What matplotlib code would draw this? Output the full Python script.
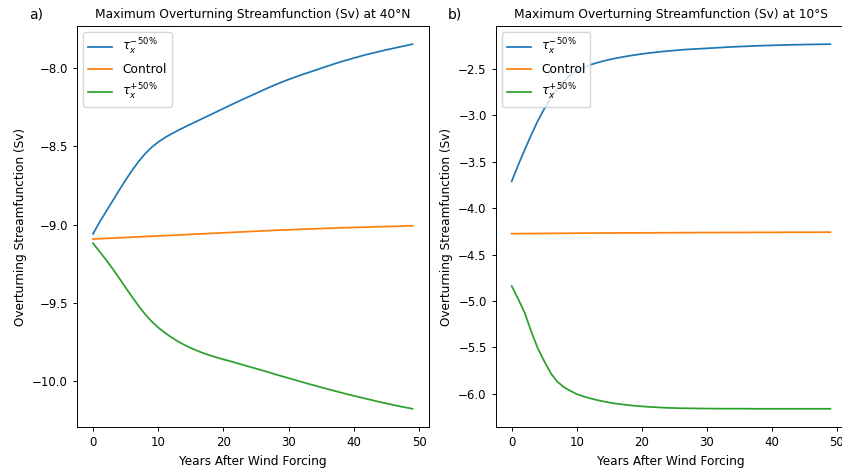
import numpy as np
import matplotlib
matplotlib.use("Agg")
import matplotlib.pyplot as plt

plt.rcParams['font.size'] = 8.5
plt.rcParams['lines.linewidth'] = 1.26
plt.rcParams['axes.linewidth'] = 0.7
plt.rcParams['xtick.major.size'] = 3.0
plt.rcParams['ytick.major.size'] = 3.0
plt.rcParams['xtick.major.width'] = 0.7
plt.rcParams['ytick.major.width'] = 0.7

years = np.arange(50)

# max overturning streamfunction at 40N (Sv)
north_weak = [-9.06, -8.985, -8.917, -8.849, -8.781, -8.715, -8.653, -8.596, -8.546, -8.505,
              -8.472, -8.444, -8.42, -8.398, -8.377, -8.357, -8.337, -8.317, -8.297, -8.277,
              -8.257, -8.237, -8.217, -8.198, -8.179, -8.16, -8.141, -8.122, -8.104, -8.087,
              -8.071, -8.056, -8.041, -8.027, -8.013, -7.999, -7.985, -7.971, -7.958, -7.946,
              -7.934, -7.922, -7.911, -7.901, -7.891, -7.881, -7.872, -7.863, -7.854, -7.845]
north_ctrl = [-9.093, -9.091, -9.089, -9.087, -9.085, -9.083, -9.081, -9.079, -9.077, -9.075,
              -9.073, -9.071, -9.069, -9.067, -9.065, -9.063, -9.061, -9.059, -9.057, -9.055,
              -9.053, -9.051, -9.049, -9.047, -9.045, -9.043, -9.041, -9.039, -9.037, -9.035,
              -9.034, -9.032, -9.030, -9.029, -9.027, -9.026, -9.024, -9.023, -9.021, -9.020,
              -9.019, -9.018, -9.017, -9.015, -9.014, -9.013, -9.012, -9.011, -9.009, -9.008]
north_strong = [-9.12, -9.173, -9.226, -9.283, -9.343, -9.404, -9.464, -9.522, -9.575, -9.621,
                -9.66, -9.693, -9.722, -9.748, -9.771, -9.791, -9.809, -9.825, -9.839, -9.852,
                -9.864, -9.875, -9.887, -9.899, -9.911, -9.923, -9.935, -9.947, -9.96, -9.972,
                -9.984, -9.996, -10.008, -10.02, -10.031, -10.043, -10.054, -10.065, -10.076, -10.087,
                -10.097, -10.107, -10.117, -10.127, -10.137, -10.146, -10.155, -10.164, -10.172, -10.18]

# max overturning streamfunction at 10S (Sv)
south_weak = [-3.71, -3.535, -3.37, -3.21, -3.06, -2.93, -2.815, -2.715, -2.632, -2.568,
              -2.52, -2.484, -2.456, -2.434, -2.415, -2.398, -2.383, -2.37, -2.358, -2.347,
              -2.337, -2.328, -2.32, -2.312, -2.305, -2.299, -2.293, -2.288, -2.284, -2.28,
              -2.276, -2.272, -2.268, -2.264, -2.26, -2.257, -2.254, -2.251, -2.248, -2.246,
              -2.244, -2.242, -2.240, -2.238, -2.237, -2.235, -2.234, -2.233, -2.232, -2.231]
south_ctrl = [-4.275, -4.275, -4.274, -4.274, -4.273, -4.273, -4.272, -4.272, -4.271, -4.271,
              -4.270, -4.270, -4.269, -4.269, -4.268, -4.268, -4.268, -4.267, -4.267, -4.267,
              -4.266, -4.266, -4.266, -4.265, -4.265, -4.265, -4.264, -4.264, -4.264, -4.263,
              -4.263, -4.263, -4.263, -4.262, -4.262, -4.262, -4.262, -4.261, -4.261, -4.261,
              -4.261, -4.261, -4.260, -4.260, -4.260, -4.260, -4.260, -4.260, -4.259, -4.259]
south_strong = [-4.84, -4.98, -5.13, -5.33, -5.51, -5.65, -5.78, -5.87, -5.93, -5.97,
                -6.005, -6.03, -6.05, -6.068, -6.083, -6.097, -6.108, -6.117, -6.125, -6.132,
                -6.138, -6.143, -6.147, -6.151, -6.154, -6.156, -6.158, -6.159, -6.160, -6.161,
                -6.162, -6.162, -6.163, -6.163, -6.163, -6.163, -6.163, -6.164, -6.164, -6.164,
                -6.164, -6.164, -6.164, -6.164, -6.164, -6.164, -6.164, -6.164, -6.164, -6.164]

labels = [r'$\tau_x^{-50\%}$', 'Control', r'$\tau_x^{+50\%}$']

fig = plt.figure(figsize=(8.42, 4.68), dpi=100)
ax_n = fig.add_axes([0.0915, 0.0876, 0.4175, 0.857])
ax_s = fig.add_axes([0.5888, 0.0876, 0.4163, 0.857])

panels = [
    (ax_n, [north_weak, north_ctrl, north_strong], '40°N', 'a)'),
    (ax_s, [south_weak, south_ctrl, south_strong], '10°S', 'b)'),
]

for ax, series, lat, tag in panels:
    for vals, lab in zip(series, labels):
        ax.plot(years, vals, label=lab)
    ax.set_title(f'Maximum Overturning Streamfunction (Sv) at {lat}', fontsize=8.8)
    ax.set_xlabel('Years After Wind Forcing', fontsize=8.7)
    ax.set_ylabel('Overturning Streamfunction (Sv)', fontsize=8.7)
    ax.legend(loc='upper left', fontsize=8.8)
    ax.text(-0.137, 1.01, tag, transform=ax.transAxes, fontsize=10, va='bottom')

fig.savefig('out.png', dpi=100)
